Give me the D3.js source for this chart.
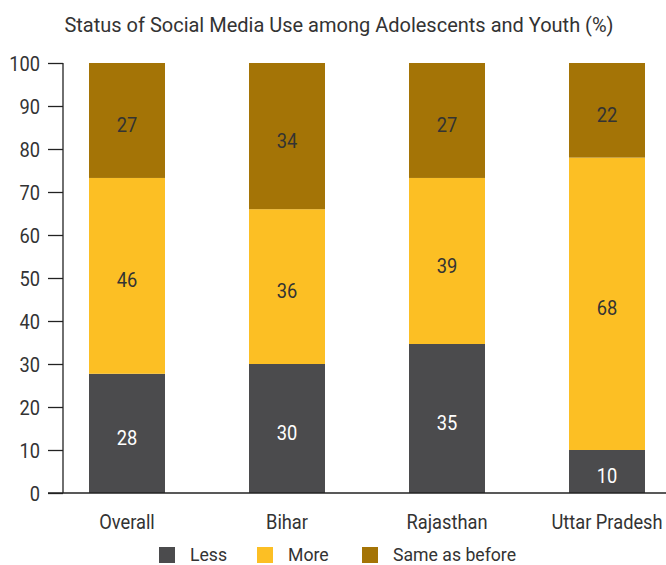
<!DOCTYPE html>
<html>
<head>
<meta charset="utf-8">
<script src="https://cdn.jsdelivr.net/npm/d3@7"></script>
<style>
  html, body { margin: 0; padding: 0; background: #fff; }
  svg { display: block; }
  text { font-family: Roboto, "Noto Sans", sans-serif; }
</style>
</head>
<body>
<svg id="chart" width="666" height="565"></svg>
<script>
// Survey results by region
const categories = ["Overall", "Bihar", "Rajasthan", "Uttar Pradesh"];
const lessValues = [28, 30, 35, 10];
const moreValues = [46, 36, 39, 68];
const sameValues = [27, 34, 27, 22];
const seriesNames = ["Less", "More", "Same as before"];
const seriesColors = ["#4b4b4d", "#fcbf24", "#a47406"];
const yTicks = [0, 10, 20, 30, 40, 50, 60, 70, 80, 90, 100];
const title = "Status of Social Media Use among Adolescents and Youth (%)";

const FONT = "Roboto, 'Noto Sans', sans-serif";
const NARROW = 0.87; // horizontal squeeze for a condensed look

const rows = categories.map((c, i) => ({
  category: c,
  "Less": lessValues[i],
  "More": moreValues[i],
  "Same as before": sameValues[i]
}));

const svg = d3.select("#chart");

const x = d3.scaleBand()
  .domain(categories)
  .range([47, 687])
  .paddingInner(0.525)
  .paddingOuter(0.2625);

// Shares of each bar's total, shown on a 0–100 axis
const y = d3.scaleLinear().domain([0, 1]).range([493, 63]);

const color = d3.scaleOrdinal().domain(seriesNames).range(seriesColors);

const stacked = d3.stack().keys(seriesNames).offset(d3.stackOffsetExpand)(rows);

// Squeeze a text horizontally about its own anchor point
function condense(sel, k) {
  sel.each(function () {
    const t = d3.select(this);
    const tx = +t.attr("x") || 0;
    t.attr("transform", `translate(${tx},0) scale(${k},1) translate(${-tx},0)`);
  });
}

// Title
svg.append("text")
  .attr("x", 339)
  .attr("y", 32)
  .attr("text-anchor", "middle")
  .attr("font-size", 20)
  .attr("fill", "#333")
  .text(title);

// Bars
const layers = svg.append("g").selectAll("g")
  .data(stacked)
  .join("g")
  .attr("fill", d => color(d.key));

layers.selectAll("rect")
  .data(d => d)
  .join("rect")
  .attr("x", d => x(d.data.category))
  .attr("width", x.bandwidth())
  .attr("y", d => y(d[1]))
  .attr("height", d => y(d[0]) - y(d[1]));

// Value labels
stacked.forEach(layer => {
  svg.append("g").selectAll("text")
    .data(layer)
    .join("text")
    .attr("x", d => x(d.data.category) + x.bandwidth() / 2)
    .attr("y", d => (y(d[0]) + y(d[1])) / 2)
    .attr("dy", "0.55em")
    .attr("text-anchor", "middle")
    .attr("font-size", 21)
    .attr("fill", layer.key === "Less" ? "#ffffff" : "#333333")
    .text(d => d.data[layer.key])
    .call(condense, NARROW);
});

// Y axis
const yAxis = svg.append("g")
  .attr("transform", "translate(63,0)")
  .call(d3.axisLeft(y).tickValues(yTicks.map(v => v / 100))
    .tickFormat(v => Math.round(v * 100)).tickSize(15).tickPadding(8));
yAxis.select(".domain").attr("stroke", "#222").attr("stroke-width", 1.3)
  .attr("d", `M0,${y(1)}V${y(0)}`);
yAxis.selectAll(".tick line").attr("stroke", "#222").attr("stroke-width", 1.3);
yAxis.selectAll(".tick text").attr("font-size", 21).attr("fill", "#333")
  .attr("dy", "0.36em")
  .style("font-family", FONT)
  .call(condense, NARROW);

// X axis
const xAxis = svg.append("g")
  .attr("transform", `translate(0,${y(0)})`)
  .call(d3.axisBottom(x).tickSize(0).tickPadding(21));
xAxis.select(".domain").attr("stroke", "#222").attr("stroke-width", 1.3)
  .attr("d", "M48,0H666");
xAxis.selectAll(".tick text").attr("font-size", 21).attr("fill", "#333")
  .style("font-family", FONT)
  .call(condense, NARROW);

// Legend
const legendX = [159, 257, 362];
const legend = svg.append("g").selectAll("g")
  .data(seriesNames)
  .join("g")
  .attr("transform", (d, i) => `translate(${legendX[i]},547)`);
legend.append("rect")
  .attr("width", 16).attr("height", 16)
  .attr("fill", d => color(d));
legend.append("text")
  .attr("x", 31).attr("y", 14)
  .attr("font-size", 19).attr("fill", "#333")
  .text(d => d)
  .call(condense, 0.93);
</script>
</body>
</html>
